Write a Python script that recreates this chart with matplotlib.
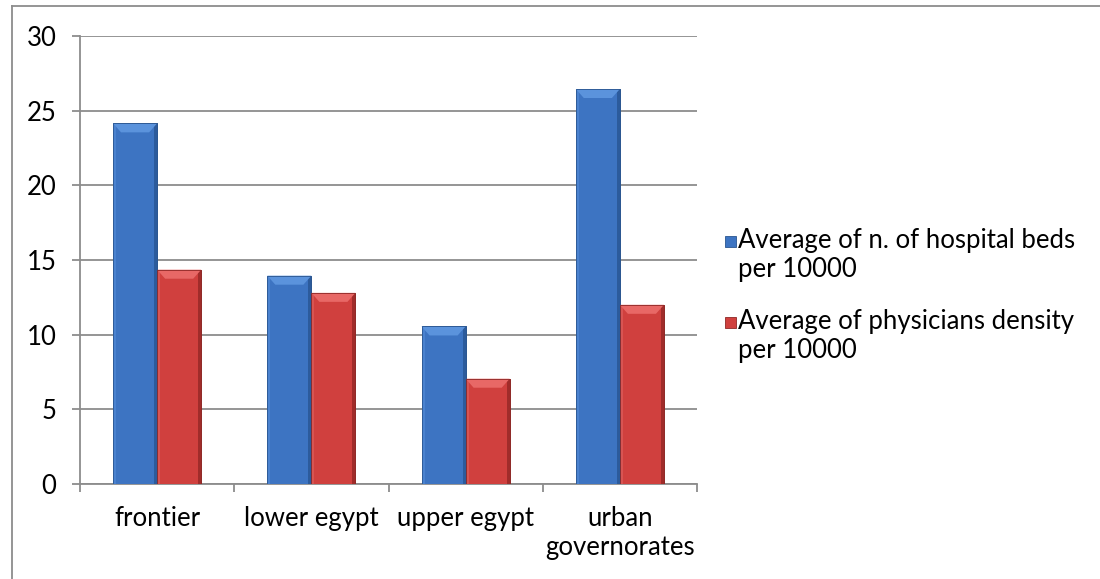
import numpy as np
import matplotlib.pyplot as plt
from matplotlib.patches import Polygon, Rectangle
from matplotlib.lines import Line2D

# Regional averages per 10000 population
categories = ['frontier', 'lower egypt', 'upper egypt', 'urban\ngovernorates']
beds = [24.15, 13.95, 10.55, 26.45]
physicians = [14.35, 12.8, 7.05, 12.0]
series_labels = ['Average of n. of hospital beds\nper 10000',
                 'Average of physicians density\nper 10000']
y_ticks = [0, 5, 10, 15, 20, 25, 30]

plt.rcParams['font.family'] = ['Lato', 'DejaVu Sans']
FS = 18.5
GRID = '#8c8c8c'

# face, top bevel, left edge, right edge, outline
blue = ('#3d74c2', '#5b93dc', '#4a82cf', '#2c5b9c', '#2a558f')
red = ('#d0403e', '#e86866', '#d85452', '#a02c2a', '#8e2826')

fig = plt.figure(figsize=(11, 5.79), dpi=100)
ax = fig.add_axes([80 / 1100, 1 - 484 / 579, 617 / 1100, 448 / 579])

x = np.arange(len(categories))
w = 1 / 3.5
bars_b = ax.bar(x - w / 2, beds, w, color=blue[0], edgecolor=blue[4], lw=0.6, zorder=3)
bars_r = ax.bar(x + w / 2, physicians, w, color=red[0], edgecolor=red[4], lw=0.6, zorder=3)

ax.set_xlim(-0.5, len(categories) - 0.5)
ax.set_ylim(0, 30)

# size of one pixel in data units
px_x = len(categories) / 617
px_y = 30 / 448


def bevel(bars, c):
    for b in bars:
        x0, h, bw = b.get_x(), b.get_height(), b.get_width()
        x1 = x0 + bw
        sx, sy, ex = 8 * px_x, 9 * px_y, 3 * px_x
        ax.add_patch(Polygon([(x0, 0), (x0, h), (x0 + ex, h), (x0 + ex, 0)],
                             closed=True, fc=c[2], ec='none', zorder=4))
        ax.add_patch(Polygon([(x1, 0), (x1, h), (x1 - ex, h), (x1 - ex, 0)],
                             closed=True, fc=c[3], ec='none', zorder=4))
        ax.add_patch(Polygon([(x0, h), (x1, h), (x1 - sx, h - sy), (x0 + sx, h - sy)],
                             closed=True, fc=c[1], ec='none', zorder=5))
        ax.add_patch(Rectangle((x0, 0), bw, h, fill=False, ec=c[4], lw=0.6, zorder=6))


bevel(bars_b, blue)
bevel(bars_r, red)

# axes styling
ax.set_axisbelow(True)
ax.yaxis.grid(True, color=GRID, lw=1.3)
for s in ['top', 'right']:
    ax.spines[s].set_visible(False)
for s in ['left', 'bottom']:
    ax.spines[s].set_color(GRID)
    ax.spines[s].set_linewidth(1.3)

ax.set_yticks(y_ticks)
ax.tick_params(axis='y', direction='out', length=6, width=1.3, color=GRID,
               labelsize=FS, pad=11)
ax.set_xticks(x)
ax.set_xticklabels(categories, fontsize=FS, linespacing=1.2)
ax.set_xticks(np.arange(len(categories) + 1) - 0.5, minor=True)
ax.tick_params(axis='x', which='major', length=0, pad=16)
ax.tick_params(axis='x', which='minor', direction='out', length=6, width=1.3, color=GRID)

# legend
for i, (lab, c) in enumerate(zip(series_labels, [blue, red])):
    yc = 1 - (241 + i * 81) / 579
    fig.patches.append(Rectangle((725 / 1100, yc - 6 / 579), 11 / 1100, 11 / 579,
                                 transform=fig.transFigure, fc=c[0], ec=c[4], lw=0.6))
    fig.text(738 / 1100, yc + 13 / 579, lab, fontsize=FS, va='top', ha='left',
             linespacing=1.2)

# chart frame
fig.add_artist(Line2D([11.5 / 1100, 11.5 / 1100], [0, 1 - 6 / 579], color=GRID, lw=1.3))
fig.add_artist(Line2D([11.5 / 1100, 1], [1 - 6 / 579, 1 - 6 / 579], color=GRID, lw=1.3))

fig.savefig('out.png', dpi=100)
